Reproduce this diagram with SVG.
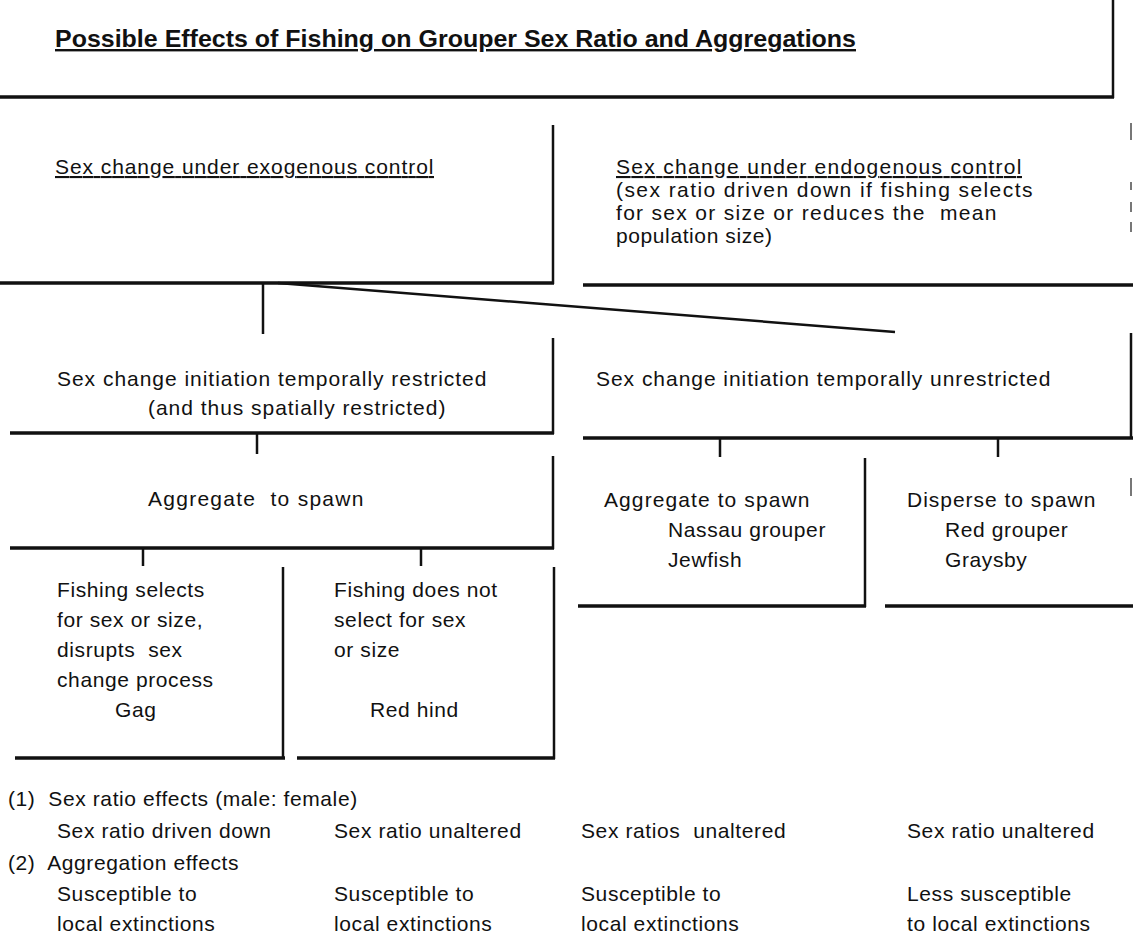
<svg xmlns="http://www.w3.org/2000/svg" width="1133" height="934" viewBox="0 0 1133 934">
<style>
text{font-family:"Liberation Sans",Arial,sans-serif;font-size:21px;letter-spacing:0.6px;fill:#111;white-space:pre}
.t{font-weight:bold;font-size:24px;letter-spacing:0;text-decoration:underline}
.u{text-decoration:underline}
.h{stroke:#111;stroke-width:3.5;fill:none}
.v{stroke:#111;stroke-width:2.5;fill:none}
.c{stroke:#111;stroke-width:2.5;fill:none}
.m{stroke:#777;stroke-width:2;fill:none}
</style>
<rect width="1133" height="934" fill="#fff"/>
<g id="title">
<path class="h" d="M0 97H1114"/><path class="v" d="M1113 0V98"/>
<text class="t" x="55" y="47" textLength="801" lengthAdjust="spacingAndGlyphs">Possible Effects of Fishing on Grouper Sex Ratio and Aggregations</text>
</g>
<g id="exogenous">
<path class="h" d="M0 283H554"/><path class="v" d="M553 125V284"/>
<text class="u" x="55" y="174" textLength="379">Sex change under exogenous control</text>
</g>
<g id="endogenous">
<path class="h" d="M583 285H1133"/>
<text class="u" x="616" y="174" textLength="406">Sex change under endogenous control</text>
<text x="616" y="197" textLength="417">(sex ratio driven down if fishing selects</text>
<text x="616" y="220" textLength="381">for sex or size or reduces the&#160; mean</text>
<text x="616" y="243">population size)</text>
</g>
<g id="restricted">
<path class="h" d="M10 433H554"/><path class="v" d="M553 338V434"/>
<text x="57" y="386" textLength="430">Sex change initiation temporally restricted</text>
<text x="148" y="415" textLength="298">(and thus spatially restricted)</text>
</g>
<g id="unrestricted">
<path class="h" d="M583 438H1133"/><path class="v" d="M1131 333V439"/>
<text x="596" y="386" textLength="455">Sex change initiation temporally unrestricted</text>
</g>
<g id="aggregate-left">
<path class="h" d="M10 548H554"/><path class="v" d="M553 456V549"/>
<text x="148" y="506" textLength="216">Aggregate&#160; to spawn</text>
</g>
<g id="aggregate-right">
<path class="h" d="M578 606H866"/><path class="v" d="M865 458V607"/>
<text x="604" y="507" textLength="206">Aggregate to spawn</text>
<text x="668" y="537" textLength="158">Nassau grouper</text>
<text x="668" y="567">Jewfish</text>
</g>
<g id="disperse">
<path class="h" d="M885 606H1133"/>
<text x="907" y="507" textLength="189">Disperse to spawn</text>
<text x="945" y="537">Red grouper</text>
<text x="945" y="567">Graysby</text>
</g>
<g id="fishing-selects">
<path class="h" d="M15 758H285"/><path class="v" d="M283 567V759"/>
<text x="57" y="597">Fishing selects</text>
<text x="57" y="627">for sex or size,</text>
<text x="57" y="657">disrupts&#160; sex</text>
<text x="57" y="687">change process</text>
<text x="115" y="717">Gag</text>
</g>
<g id="fishing-not">
<path class="h" d="M297 758H555"/><path class="v" d="M554 567V759"/>
<text x="334" y="597">Fishing does not</text>
<text x="334" y="627">select for sex</text>
<text x="334" y="657">or size</text>
<text x="370" y="717">Red hind</text>
</g>
<g id="effects">
<text x="8" y="806">(1)&#160; Sex ratio effects (male: female)</text>
<text x="57" y="838">Sex ratio driven down</text>
<text x="334" y="838">Sex ratio unaltered</text>
<text x="581" y="838">Sex ratios&#160; unaltered</text>
<text x="907" y="838">Sex ratio unaltered</text>
<text x="8" y="870">(2)&#160; Aggregation effects</text>
<text x="57" y="901">Susceptible to</text>
<text x="334" y="901">Susceptible to</text>
<text x="581" y="901">Susceptible to</text>
<text x="907" y="901">Less susceptible</text>
<text x="57" y="931">local extinctions</text>
<text x="334" y="931">local extinctions</text>
<text x="581" y="931">local extinctions</text>
<text x="907" y="931">to local extinctions</text>
</g>
<g id="connectors">
<path class="c" d="M263 283V334"/>
<path class="c" d="M278 283L895 332"/>
<path class="c" d="M257 433V454"/>
<path class="c" d="M720 438V457"/>
<path class="c" d="M998 438V457"/>
<path class="c" d="M143 548V566"/>
<path class="c" d="M421 548V566"/>
</g>
<g id="edge-marks">
<path class="m" d="M1131 123V140M1131 182V190M1131 202V212M1131 222V232M1131 478V496"/>
</g>
</svg>
